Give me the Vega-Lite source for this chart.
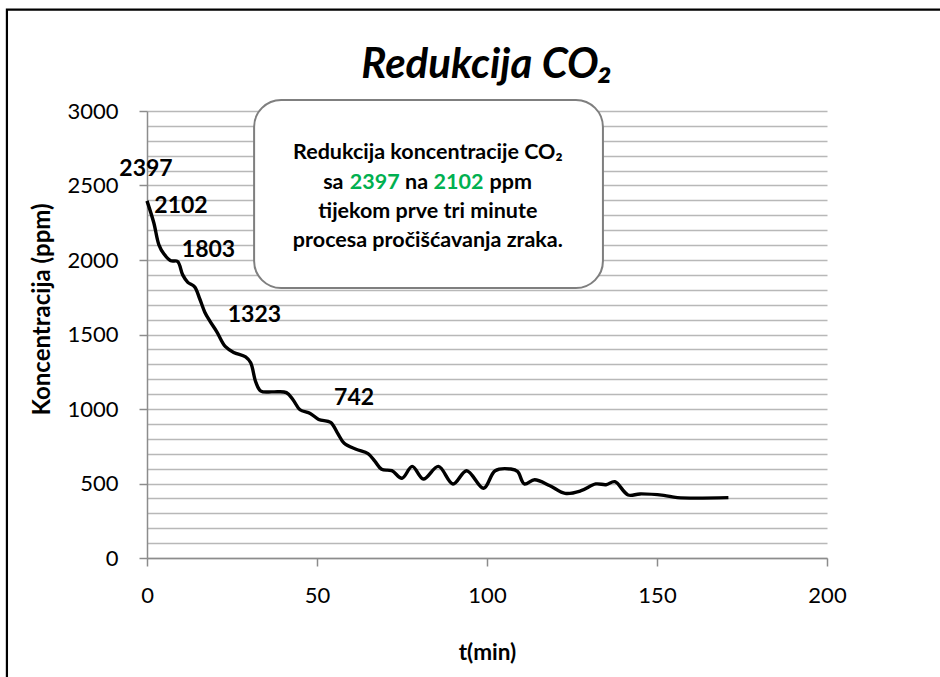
{
  "$schema": "https://vega.github.io/schema/vega-lite/v6.json",
  "width": 680,
  "height": 447,
  "autosize": {"type": "none"},
  "padding": {"left": 147, "top": 111, "right": 113, "bottom": 119},
  "background": "white",
  "config": {"view": {"stroke": null}, "font": "Lato"},
  "title": {
    "text": "Redukcija CO₂",
    "font": "Lato",
    "fontSize": 42,
    "fontWeight": "bold",
    "fontStyle": "italic",
    "color": "black",
    "anchor": "middle",
    "frame": "group",
    "baseline": "alphabetic",
    "offset": -112
  },
  "datasets": {
    "series": [
      {"t": 0, "ppm": 2397}, {"t": 2, "ppm": 2250}, {"t": 3.5, "ppm": 2102}, {"t": 5, "ppm": 2040},
      {"t": 7, "ppm": 1995}, {"t": 9, "ppm": 1990}, {"t": 10.5, "ppm": 1900}, {"t": 12, "ppm": 1850},
      {"t": 14, "ppm": 1820}, {"t": 15.5, "ppm": 1740}, {"t": 17, "ppm": 1650}, {"t": 18.5, "ppm": 1590},
      {"t": 20.5, "ppm": 1520}, {"t": 23, "ppm": 1420}, {"t": 25.5, "ppm": 1380}, {"t": 29, "ppm": 1350},
      {"t": 30.5, "ppm": 1310}, {"t": 32, "ppm": 1180}, {"t": 33.5, "ppm": 1120}, {"t": 37, "ppm": 1115},
      {"t": 41, "ppm": 1110}, {"t": 43, "ppm": 1060}, {"t": 45, "ppm": 995}, {"t": 48, "ppm": 970},
      {"t": 50.5, "ppm": 930}, {"t": 54, "ppm": 910}, {"t": 56, "ppm": 840}, {"t": 58, "ppm": 770},
      {"t": 61.5, "ppm": 730}, {"t": 65, "ppm": 700}, {"t": 67, "ppm": 650}, {"t": 69, "ppm": 595},
      {"t": 72, "ppm": 586}, {"t": 75, "ppm": 535}, {"t": 78, "ppm": 615}, {"t": 81.3, "ppm": 530},
      {"t": 85.7, "ppm": 615}, {"t": 90, "ppm": 497}, {"t": 94, "ppm": 586}, {"t": 99, "ppm": 468},
      {"t": 102.4, "ppm": 586}, {"t": 107, "ppm": 597}, {"t": 109, "ppm": 580}, {"t": 111, "ppm": 497},
      {"t": 114, "ppm": 525}, {"t": 118.5, "ppm": 485}, {"t": 123, "ppm": 434}, {"t": 127.5, "ppm": 450},
      {"t": 132, "ppm": 497}, {"t": 135, "ppm": 492}, {"t": 137.6, "ppm": 512}, {"t": 141.5, "ppm": 423},
      {"t": 145, "ppm": 430}, {"t": 152, "ppm": 420}, {"t": 156, "ppm": 405}, {"t": 171, "ppm": 405}
    ],
    "labels": [
      {"text": "2397", "t": -0.3, "ppm": 2611},
      {"text": "2102", "t": 10, "ppm": 2362},
      {"text": "1803", "t": 18.1, "ppm": 2067},
      {"text": "1323", "t": 31.6, "ppm": 1631},
      {"text": "742", "t": 60.9, "ppm": 1074}
    ],
    "frame": [{"t": -41.2, "t2": 240, "ppm": 3681, "ppm2": -900}],
    "box": [{"t": 31.5, "t2": 134.1, "ppm": 3074, "ppm2": 1812}],
    "boxtext": [
      {"text": "Redukcija koncentracije CO₂", "t": 82.6, "ppm": 2676, "kind": "plain"},
      {"text": "sa", "t": 54.8, "ppm": 2478, "kind": "plain"},
      {"text": "2397", "t": 67, "ppm": 2478, "kind": "num"},
      {"text": "na", "t": 79.3, "ppm": 2478, "kind": "plain"},
      {"text": "2102", "t": 91.6, "ppm": 2478, "kind": "num"},
      {"text": "ppm", "t": 107, "ppm": 2478, "kind": "plain"},
      {"text": "tijekom prve tri minute", "t": 82.6, "ppm": 2284, "kind": "plain"},
      {"text": "procesa pročišćavanja zraka.", "t": 82.6, "ppm": 2089, "kind": "plain"}
    ]
  },
  "encoding": {
    "x": {
      "field": "t", "type": "quantitative",
      "scale": {"domain": [0, 200], "nice": false, "zero": false},
      "axis": {
        "title": "t(min)",
        "values": [0, 50, 100, 150, 200],
        "grid": false,
        "labelFlush": false,
        "domainColor": "#8c8c8c", "domainWidth": 1.5,
        "tickColor": "#8c8c8c", "tickWidth": 1.5, "tickSize": 8,
        "labelFont": "Lato", "labelFontSize": 22, "labelColor": "black",
        "labelBaseline": "middle", "labelPadding": 29,
        "titleFont": "Lato", "titleFontSize": 22.5, "titleFontWeight": "bold", "titleColor": "black",
        "titleBaseline": "middle", "titleX": 340, "titleY": 94
      }
    },
    "y": {
      "field": "ppm", "type": "quantitative",
      "scale": {"domain": [0, 3000], "nice": false, "zero": false},
      "axis": {
        "title": "Koncentracija (ppm)",
        "values": [0, 100, 200, 300, 400, 500, 600, 700, 800, 900, 1000, 1100, 1200, 1300, 1400, 1500, 1600, 1700, 1800, 1900, 2000, 2100, 2200, 2300, 2400, 2500, 2600, 2700, 2800, 2900, 3000],
        "grid": true, "gridColor": "#b8b8b8", "gridWidth": 1.7,
        "domainColor": "#8c8c8c", "domainWidth": 1.5,
        "tickColor": "#8c8c8c", "tickWidth": 1.5, "tickSize": 8,
        "tickOpacity": {"condition": {"test": "datum.value % 500 === 0", "value": 1}, "value": 0},
        "labelExpr": "datum.value % 500 === 0 ? datum.label : ''",
        "labelFont": "Lato", "labelFontSize": 22, "labelColor": "black", "labelPadding": 21,
        "format": "d",
        "titleFont": "Lato", "titleFontSize": 24, "titleFontWeight": "bold", "titleColor": "black",
        "titleAngle": 270, "titleAlign": "center", "titleBaseline": "middle", "titleX": -105, "titleY": 198
      }
    }
  },
  "layer": [
    {
      "data": {"name": "frame"},
      "mark": {"type": "rect", "fill": null, "stroke": "black", "strokeWidth": 2.2, "clip": false},
      "encoding": {"x2": {"field": "t2"}, "y2": {"field": "ppm2"}}
    },
    {
      "data": {"name": "series"},
      "mark": {"type": "line", "color": "black", "strokeWidth": 3.4, "interpolate": "catmull-rom", "clip": false}
    },
    {
      "data": {"name": "box"},
      "mark": {"type": "rect", "fill": "white", "stroke": "#7f7f7f", "strokeWidth": 2, "cornerRadius": 27, "clip": false},
      "encoding": {"x2": {"field": "t2"}, "y2": {"field": "ppm2"}}
    },
    {
      "data": {"name": "boxtext"},
      "mark": {"type": "text", "font": "Lato", "fontSize": 21.5, "fontWeight": "bold", "align": "center", "baseline": "alphabetic", "clip": false},
      "encoding": {
        "text": {"field": "text"},
        "color": {"field": "kind", "type": "nominal", "scale": {"domain": ["plain", "num"], "range": ["black", "#00B050"]}, "legend": null}
      }
    },
    {
      "data": {"name": "labels"},
      "mark": {"type": "text", "font": "Lato", "fontSize": 23, "fontWeight": "bold", "color": "black", "align": "center", "baseline": "middle", "clip": false},
      "encoding": {"text": {"field": "text"}}
    }
  ]
}
